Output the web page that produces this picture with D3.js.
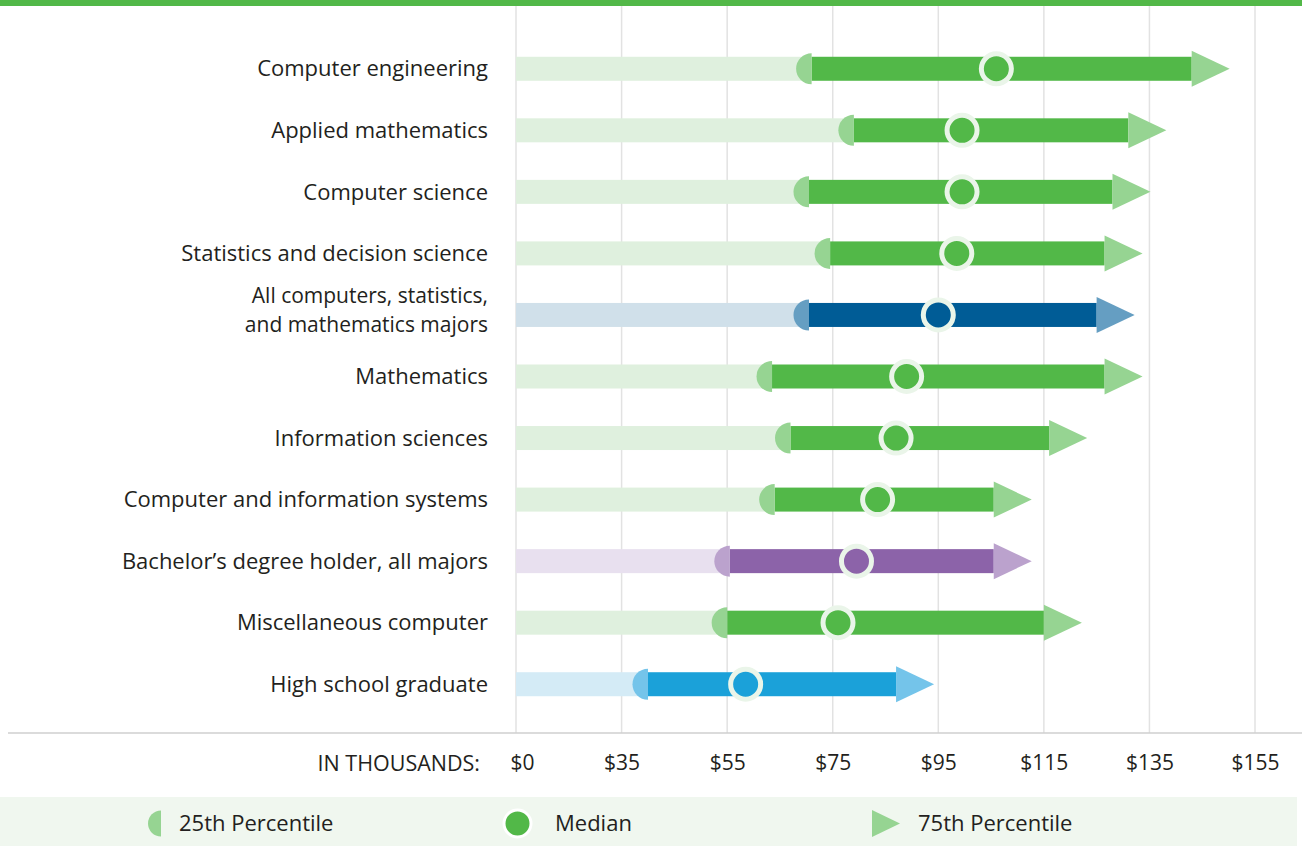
<!DOCTYPE html>
<html>
<head>
<meta charset="utf-8">
<script src="https://cdn.jsdelivr.net/npm/d3@7"></script>
<style>
  body { margin: 0; background: #fff; }
  svg { display: block; font-family: "Open Sans", "Noto Sans", sans-serif; }
</style>
</head>
<body>
<div id="chart"></div>
<script>
// values in thousands of dollars
const categories = [
  "Computer engineering",
  "Applied mathematics",
  "Computer science",
  "Statistics and decision science",
  "All computers, statistics,\nand mathematics majors",
  "Mathematics",
  "Information sciences",
  "Computer and information systems",
  "Bachelor\u2019s degree holder, all majors",
  "Miscellaneous computer",
  "High school graduate"
];
const p25 = [71, 79, 70.5, 74.5, 70.5, 63.5, 67, 64, 55.5, 55, 40];
const median = [106, 99.5, 99.5, 98.5, 95, 89, 87, 83.5, 79.5, 76, 58.5];
const p75 = [143, 131, 128, 126.5, 125, 126.5, 116, 105.5, 105.5, 115, 87];
const groups = ["major", "major", "major", "major", "all", "major", "major", "major", "bachelor", "major", "hs"];
const tickValues = [0, 35, 55, 75, 95, 115, 135, 155];

const palette = {
  major:    { pale: "#dff0de", dark: "#52b848", mark: "#96d492" },
  all:      { pale: "#d0e0ea", dark: "#005c96", mark: "#659ec2" },
  bachelor: { pale: "#e8e0ef", dark: "#8c63a9", mark: "#bba2cd" },
  hs:       { pale: "#d4ebf6", dark: "#1ba1d9", mark: "#74c4ea" }
};

const width = 1302, height = 846;
const barH = 24, halfR = 15.5, arrowW = 38, arrowH = 36, medR = 15;

const data = categories.map((c, i) => ({
  name: c, p25: p25[i], median: median[i], p75: p75[i], group: groups[i]
}));

const svg = d3.select("#chart").append("svg")
  .attr("width", width)
  .attr("height", height);

// broken axis: $0 -> $35 takes one step, then linear
const x = d3.scaleLinear().domain([0, 35, 155]).range([516, 621.6, 1255]);
const y = d3.scalePoint().domain(categories).range([38, 715]).padding(0.5);

// top stripe
svg.append("rect").attr("x", 0).attr("y", 0).attr("width", width).attr("height", 6)
  .attr("fill", "#52b848");

// gridlines
svg.append("g").selectAll("line")
  .data(tickValues)
  .join("line")
  .attr("x1", d => x(d)).attr("x2", d => x(d))
  .attr("y1", 6).attr("y2", 733)
  .attr("stroke", "#e2e2e2")
  .attr("stroke-width", 1.5);

// axis baseline
svg.append("line")
  .attr("x1", 8).attr("x2", width).attr("y1", 733).attr("y2", 733)
  .attr("stroke", "#cfcfcf").attr("stroke-width", 1.5);

// tick labels
const axis = d3.axisBottom(x).tickValues(tickValues).tickSize(0).tickPadding(0)
  .tickFormat(d => "$" + d);
const axisG = svg.append("g").attr("transform", "translate(0,763)").call(axis);
axisG.select(".domain").remove();
axisG.selectAll("text")
  .attr("dy", "0.35em")
  .attr("dx", d => d === 0 ? 6 : 0)
  .attr("font-family", "\"Open Sans\", \"Noto Sans\", sans-serif")
  .attr("font-size", 21).attr("fill", "#231f20");

svg.append("text")
  .attr("x", 480).attr("y", 763).attr("dy", "0.35em")
  .attr("text-anchor", "end")
  .attr("font-size", 21.5).attr("fill", "#231f20")
  .text("IN THOUSANDS:");

// row labels
const labels = svg.append("g").selectAll("text")
  .data(data)
  .join("text")
  .attr("x", 488)
  .attr("text-anchor", "end")
  .attr("font-size", d => d.name.includes("\n") ? 21 : 22)
  .attr("fill", "#231f20");
labels.each(function (d) {
  const lines = d.name.split("\n");
  const t = d3.select(this);
  const shift = lines.length > 1 ? -5 : 0;
  lines.forEach((ln, j) => {
    t.append("tspan")
      .attr("x", 488)
      .attr("y", y(d.name) + shift + (j - (lines.length - 1) / 2) * 29)
      .attr("dy", "0.35em")
      .text(ln);
  });
});

const rows = svg.append("g").selectAll("g")
  .data(data)
  .join("g")
  .attr("transform", d => `translate(0,${y(d.name)})`);

// pale bar from 0 to 25th
rows.append("rect")
  .attr("x", x(0))
  .attr("y", -barH / 2)
  .attr("width", d => x(d.p25) - x(0))
  .attr("height", barH)
  .attr("fill", d => palette[d.group].pale);

// dark bar 25th to 75th
rows.append("rect")
  .attr("x", d => x(d.p25))
  .attr("y", -barH / 2)
  .attr("width", d => x(d.p75) - x(d.p25))
  .attr("height", barH)
  .attr("fill", d => palette[d.group].dark);

// 25th half circle
const halfCircle = r => `M0,${-r}A${r},${r} 0 0 0 0,${r}Z`;
rows.append("path")
  .attr("transform", d => `translate(${x(d.p25)},0)`)
  .attr("d", halfCircle(halfR))
  .attr("fill", d => palette[d.group].mark);

// 75th arrow
const arrow = (w, h) => `M0,${-h / 2}L${w},0L0,${h / 2}Z`;
rows.append("path")
  .attr("transform", d => `translate(${x(d.p75)},0)`)
  .attr("d", arrow(arrowW, arrowH))
  .attr("fill", d => palette[d.group].mark);

// median dot
rows.append("circle")
  .attr("cx", d => x(d.median))
  .attr("r", medR)
  .attr("fill", d => palette[d.group].dark)
  .attr("stroke", "#eaf5e9")
  .attr("stroke-width", 5);

// legend
const legend = svg.append("g");
legend.append("rect")
  .attr("x", 0).attr("y", 797).attr("width", 1297).attr("height", 49)
  .attr("fill", "#f0f7ef");

const legY = 823.5;
legend.append("path")
  .attr("transform", `translate(161,${legY})`)
  .attr("d", halfCircle(13))
  .attr("fill", palette.major.mark);
legend.append("circle")
  .attr("cx", 517.5).attr("cy", legY).attr("r", 13.5)
  .attr("fill", palette.major.dark)
  .attr("stroke", "#ffffff").attr("stroke-width", 3);
legend.append("path")
  .attr("transform", `translate(872,${legY})`)
  .attr("d", arrow(28, 27))
  .attr("fill", palette.major.mark);

const legendText = [["25th Percentile", 179], ["Median", 555], ["75th Percentile", 918]];
legend.selectAll("text.leg")
  .data(legendText)
  .join("text")
  .attr("class", "leg")
  .attr("x", d => d[1]).attr("y", legY).attr("dy", "0.35em")
  .attr("font-size", 22).attr("fill", "#231f20")
  .text(d => d[0]);
</script>
</body>
</html>
